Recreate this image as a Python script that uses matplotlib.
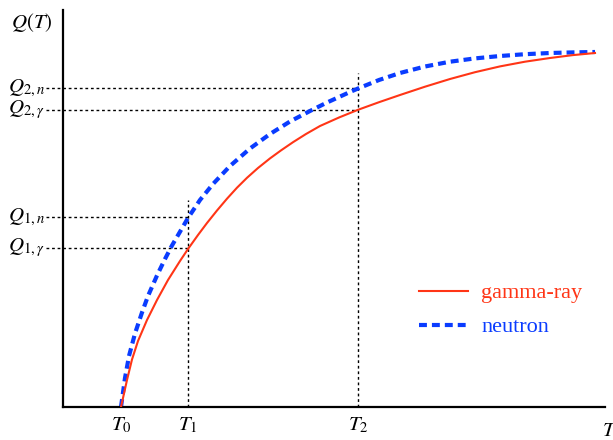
import matplotlib.pyplot as plt

plt.rcParams['mathtext.fontset'] = 'stix'
plt.rcParams['font.family'] = 'Liberation Serif'

# curve samples (T and Q in arbitrary units)
gamma_T = [58, 64, 69, 75, 84, 94, 105, 117, 125, 135, 144, 154, 164, 174, 184,
           195, 207, 218, 230, 243, 257, 276, 295, 316, 337, 362, 387, 412, 437,
           462, 487, 510, 532]
gamma_Q = [0, 27, 47.5, 66, 87, 107, 127, 146, 158, 172, 184, 196.5, 208.3,
           219.3, 229.2, 239, 248.6, 256.6, 264.8, 273, 281, 289.5, 297.2, 304.8,
           312, 320.3, 328, 334.8, 340.6, 345.3, 349, 351.9, 354]
neutron_T = [58, 62, 66, 72, 79, 85, 94, 102, 109, 125, 137, 150, 167, 187, 207,
             227, 247, 264, 287, 295, 316, 337, 362, 387, 412, 437, 462, 487,
             510, 532]
neutron_Q = [0, 29, 51, 73.5, 94.5, 111, 131.5, 148, 161.5, 189, 207, 223, 241,
             258.5, 273, 285.5, 296, 304.5, 315, 318.5, 327, 334, 340.5, 345.3,
             348.6, 351, 352.8, 354, 354.6, 355]

T_marks = [58, 125, 295]
T_labels = ['$T_0$', '$T_1$', '$T_2$']
Q_gamma = [159, 297]
Q_neutron = [190, 319]

fig = plt.figure(figsize=(6.13, 4.40), dpi=100)
ax = fig.add_axes([63 / 613, 33 / 440, 542 / 613, 397 / 440])
ax.set_xlim(0, 542)
ax.set_ylim(0, 397)
for s in ['top', 'right']:
    ax.spines[s].set_visible(False)
for s in ['left', 'bottom']:
    ax.spines[s].set_linewidth(1.6)
ax.set_xticks([])
ax.set_yticks([])

dot = dict(color='black', linestyle=(0, (2, 2)), linewidth=1.0, clip_on=False)
# vertical guides
ax.plot([T_marks[1], T_marks[1]], [0, 207], **dot)
ax.plot([T_marks[2], T_marks[2]], [0, 334], **dot)
# horizontal guides
for i, q in enumerate(Q_neutron):
    ax.plot([-17, T_marks[i + 1]], [q, q], **dot)
for i, q in enumerate(Q_gamma):
    ax.plot([-17, T_marks[i + 1]], [q, q], **dot)

ax.plot(gamma_T, gamma_Q, color='#ff3516', linewidth=1.5, label='gamma-ray', zorder=3)
ax.plot(neutron_T, neutron_Q, color='#0a3cff', linewidth=3, linestyle=(0, (1.9, 1.2)),
        label='neutron', zorder=2)

# axis labels
ax.text(-31, 385, '$Q(T)$', fontsize=15, ha='center', va='center')
ax.text(547, -24, '$T$', fontsize=15, ha='center', va='center', clip_on=False)
for t, lab in zip(T_marks, T_labels):
    ax.text(t, -18, lab, fontsize=15, ha='center', va='center')
q_labels = ['$Q_{1,\\gamma}$', '$Q_{2,\\gamma}$']
for q, lab in zip(Q_gamma, q_labels):
    ax.text(-18, q, lab, fontsize=15, ha='right', va='center')
q_labels = ['$Q_{1,n}$', '$Q_{2,n}$']
for q, lab in zip(Q_neutron, q_labels):
    ax.text(-18, q, lab, fontsize=15, ha='right', va='center')

leg = ax.legend(loc='upper left', bbox_to_anchor=(0.62, 0.363), frameon=False,
                fontsize=16, handlelength=2.2, handletextpad=0.6, labelspacing=0.6)
for line, text in zip(leg.get_lines(), leg.get_texts()):
    text.set_color(line.get_color())

plt.savefig('out.png')
